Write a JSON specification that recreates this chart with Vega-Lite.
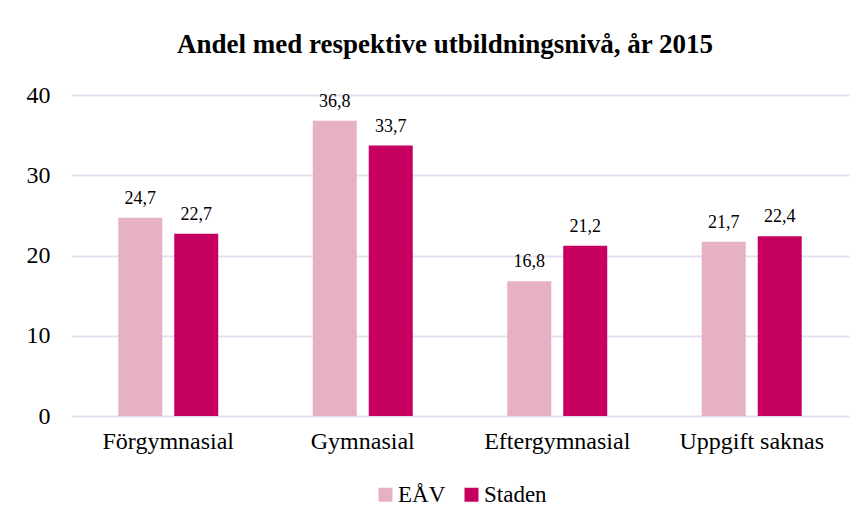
{
  "$schema": "https://vega.github.io/schema/vega-lite/v6.json",
  "width": 778,
  "height": 321,
  "autosize": {"type": "none"},
  "padding": {"left": 71, "top": 95, "right": 19, "bottom": 108},
  "background": "#ffffff",
  "title": {
    "text": "Andel med respektive utbildningsnivå, år 2015",
    "font": "Liberation Serif",
    "fontSize": 27,
    "fontWeight": "bold",
    "color": "#000000",
    "anchor": "middle",
    "frame": "group",
    "dx": -15,
    "offset": 24
  },
  "data": {
    "values": [
      {"kategori": "Förgymnasial", "serie": "EÅV", "andel": 24.7, "etikett": "24,7"},
      {"kategori": "Förgymnasial", "serie": "Staden", "andel": 22.7, "etikett": "22,7"},
      {"kategori": "Gymnasial", "serie": "EÅV", "andel": 36.8, "etikett": "36,8"},
      {"kategori": "Gymnasial", "serie": "Staden", "andel": 33.7, "etikett": "33,7"},
      {"kategori": "Eftergymnasial", "serie": "EÅV", "andel": 16.8, "etikett": "16,8"},
      {"kategori": "Eftergymnasial", "serie": "Staden", "andel": 21.2, "etikett": "21,2"},
      {"kategori": "Uppgift saknas", "serie": "EÅV", "andel": 21.7, "etikett": "21,7"},
      {"kategori": "Uppgift saknas", "serie": "Staden", "andel": 22.4, "etikett": "22,4"}
    ]
  },
  "encoding": {
    "x": {
      "field": "kategori",
      "type": "nominal",
      "sort": null,
      "title": null,
      "scale": {"paddingInner": 0.486, "paddingOuter": 0.243},
      "axis": {
        "labelAngle": 0,
        "labelFont": "Liberation Serif",
        "labelFontSize": 24,
        "labelColor": "#000000",
        "labelPadding": 13,
        "domain": false,
        "ticks": false,
        "grid": false
      }
    },
    "xOffset": {
      "field": "serie",
      "type": "nominal",
      "sort": ["EÅV", "Staden"],
      "scale": {"paddingInner": 0.214, "paddingOuter": 0}
    },
    "y": {
      "field": "andel",
      "type": "quantitative",
      "title": null,
      "scale": {"domain": [0, 40], "nice": false},
      "axis": {
        "values": [0, 10, 20, 30, 40],
        "labelFont": "Liberation Serif",
        "labelFontSize": 24,
        "labelColor": "#000000",
        "labelPadding": 21,
        "domain": false,
        "ticks": false,
        "grid": true,
        "gridColor": "#E6DFF0",
        "gridWidth": 2
      }
    }
  },
  "layer": [
    {
      "mark": {"type": "bar"},
      "encoding": {
        "color": {
          "field": "serie",
          "type": "nominal",
          "sort": ["EÅV", "Staden"],
          "title": null,
          "scale": {"domain": ["EÅV", "Staden"], "range": ["#E6B1C4", "#C6005F"]},
          "legend": {
            "orient": "bottom",
            "direction": "horizontal",
            "symbolType": "square",
            "symbolSize": 196,
            "symbolStrokeWidth": 0,
            "labelFont": "Liberation Serif",
            "labelFontSize": 23,
            "labelColor": "#000000",
            "labelOffset": 1,
            "columnPadding": 14,
            "offset": 30
          }
        }
      }
    },
    {
      "mark": {
        "type": "text",
        "baseline": "bottom",
        "dy": -10,
        "font": "Liberation Serif",
        "fontSize": 18,
        "color": "#000000"
      },
      "encoding": {
        "text": {"field": "etikett", "type": "nominal"}
      }
    }
  ],
  "config": {
    "view": {"stroke": null},
    "legend": {"layout": {"bottom": {"anchor": "middle"}}}
  }
}
